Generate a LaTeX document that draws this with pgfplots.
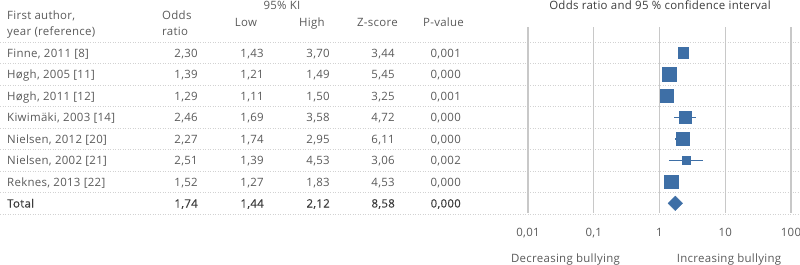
\documentclass[border=0pt]{standalone}
\usepackage{pgfplots}
\pgfplotsset{compat=1.18}
\usepackage{fontspec}
\setmainfont{Open Sans}[LetterSpace=2.5]
\newfontfamily\totalfont{Open Sans}[FakeBold=0.2,LetterSpace=2.5]
\definecolor{txt}{HTML}{5A5A5A}
\definecolor{txtd}{HTML}{3C3C3C}
\definecolor{mk}{HTML}{3E6FA6}
\definecolor{grd}{HTML}{C8C8C8}
\definecolor{dotc}{HTML}{D2D2D2}
\tikzset{t/.style={font=\fontsize{11.5}{13}\selectfont, text=txt, inner sep=0pt}}
% baseline y, name, or, lo, hi, z, p, extra style
\newcommand{\row}[8]{%
  \node[t,#8,anchor=base west] at (7bp,-#1bp) {#2};
  \node[t,#8,anchor=base east] at (198bp,-#1bp) {#3};
  \node[t,#8,anchor=base east] at (264bp,-#1bp) {#4};
  \node[t,#8,anchor=base east] at (330bp,-#1bp) {#5};
  \node[t,#8,anchor=base east] at (395bp,-#1bp) {#6};
  \node[t,#8,anchor=base east] at (461bp,-#1bp) {#7};
}
\tikzset{tot/.style={font=\fontsize{11.5}{13}\totalfont, text=txtd}}
\begin{document}
\begin{tikzpicture}
\path[use as bounding box] (0,0) rectangle (800bp,-265bp);
% dotted separators
\foreach \k in {0,...,8}{
  \draw[dotc, line width=1bp, dash pattern=on 1bp off 1.5bp] (0,{-(42.25+21.5*\k)*1bp}) -- (800bp,{-(42.25+21.5*\k)*1bp});
}
% header
\node[t,anchor=base west] at (7bp,-19bp) {First author,};
\node[t,anchor=base west] at (7bp,-35bp) {year (reference)};
\node[t,anchor=base west] at (162bp,-19bp) {Odds};
\node[t,anchor=base west] at (162bp,-35bp) {ratio};
\node[t,anchor=base] at (282bp,-9bp) {95\% KI};
\node[t,anchor=base] at (246bp,-26bp) {Low};
\node[t,anchor=base] at (312bp,-26bp) {High};
\node[t,anchor=base] at (377.5bp,-26bp) {Z-score};
\node[t,anchor=base] at (443.5bp,-26bp) {P-value};
\node[t,anchor=base,text=txtd] at (660bp,-9bp) {Odds ratio and 95 \% confidence interval};
% rows
\row{57}{Finne, 2011 [8]}{2,30}{1,43}{3,70}{3,44}{0,001}{}
\row{78.5}{Høgh, 2005 [11]}{1,39}{1,21}{1,49}{5,45}{0,000}{}
\row{100}{Høgh, 2011 [12]}{1,29}{1,11}{1,50}{3,25}{0,001}{}
\row{121.5}{Kiwimäki, 2003 [14]}{2,46}{1,69}{3,58}{4,72}{0,000}{}
\row{143}{Nielsen, 2012 [20]}{2,27}{1,74}{2,95}{6,11}{0,000}{}
\row{164.5}{Nielsen, 2002 [21]}{2,51}{1,39}{4,53}{3,06}{0,002}{}
\row{186}{Reknes, 2013 [22]}{1,52}{1,27}{1,83}{4,53}{0,000}{}
\row{207.5}{Total}{1,74}{1,44}{2,12}{8,58}{0,000}{tot}
% axis labels
\node[t,anchor=base] at (565.5bp,-262bp) {Decreasing bullying};
\node[t,anchor=base] at (729bp,-262bp) {Increasing bullying};
\begin{axis}[at={(528bp,-213bp)}, anchor=south west, scale only axis,
  width=263bp, height=186bp,
  xmode=log, xmin=0.01, xmax=100,
  ymin=-0.2, ymax=8.45, y dir=reverse,
  axis line style={draw=none}, tick style={draw=none},
  ytick=\empty,
  xtick={0.01,0.1,1,10,100},
  xticklabels={{0,01},{0,1},1,10,100},
  xticklabel style={font=\fontsize{11.5}{13}\selectfont, text=txt, inner sep=0pt, anchor=north, yshift=-15bp},
  xmajorgrids, major grid style={draw=grd, line width=1.4bp},
  clip=false]
% confidence intervals
\addplot[mk, line width=1.5bp, forget plot] coordinates {(1.21,2) (1.49,2)};
\addplot[mk, line width=1.5bp, forget plot] coordinates {(1.11,3) (1.50,3)};
\addplot[mk, line width=1.5bp, forget plot] coordinates {(1.69,4) (3.58,4)};
\addplot[mk, line width=1.5bp, forget plot] coordinates {(1.74,5) (2.95,5)};
\addplot[mk, line width=1.5bp, forget plot] coordinates {(1.39,6) (4.53,6)};
\addplot[mk, line width=1.5bp, forget plot] coordinates {(1.27,7) (1.83,7)};
% odds ratios
\addplot[only marks, mark=square*, mark size=5.3bp, mark options={draw=mk, fill=mk, line width=0.5bp}] coordinates {(2.30,1)};
\addplot[only marks, mark=square*, mark size=7.0bp, mark options={draw=mk, fill=mk, line width=0.5bp}] coordinates {(1.39,2)};
\addplot[only marks, mark=square*, mark size=6.5bp, mark options={draw=mk, fill=mk, line width=0.5bp}] coordinates {(1.29,3)};
\addplot[only marks, mark=square*, mark size=5.6bp, mark options={draw=mk, fill=mk, line width=0.5bp}] coordinates {(2.46,4)};
\addplot[only marks, mark=square*, mark size=6.3bp, mark options={draw=mk, fill=mk, line width=0.5bp}] coordinates {(2.27,5)};
\addplot[only marks, mark=square*, mark size=4.0bp, mark options={draw=mk, fill=mk, line width=0.5bp}] coordinates {(2.51,6)};
\addplot[only marks, mark=square*, mark size=6.8bp, mark options={draw=mk, fill=mk, line width=0.5bp}] coordinates {(1.52,7)};
\addplot[only marks, mark=square*, mark size=5.1bp, mark options={draw=mk, fill=mk, line width=0.5bp, rotate=45}] coordinates {(1.74,8)};
\end{axis}
\end{tikzpicture}
\end{document}
